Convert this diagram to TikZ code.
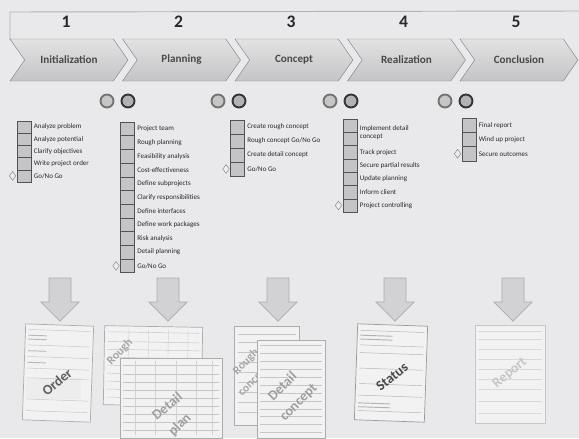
\documentclass[tikz,border=0pt]{standalone}
\usepackage{fontspec}
\setmainfont{Carlito}
\usepackage{xcolor}
\usepackage{tikz}
\usetikzlibrary{positioning,shapes.symbols,shapes.geometric,calc}

\definecolor{paper}{RGB}{233,233,235}
\definecolor{chevtop}{RGB}{226,226,227}
\definecolor{chevbot}{RGB}{196,196,198}
\definecolor{rim}{RGB}{135,135,138}
\definecolor{ink}{RGB}{40,40,42}
\definecolor{boxfill}{RGB}{196,196,198}
\definecolor{arrowfill}{RGB}{210,210,212}
\definecolor{sheet}{RGB}{242,242,243}

\begin{document}
\begin{tikzpicture}[x=0.03cm, y=-0.03cm,
	phase/.style={signal, signal from=west, signal to=east, signal pointer angle=110,
		minimum width=3.54cm, minimum height=1.26cm, inner sep=0pt, draw=rim,
		top color=chevtop, bottom color=chevbot, text=ink!85,
		font=\fontsize{9.5}{11}\selectfont\bfseries},
	num/.style={font=\fontsize{15}{18}\selectfont\bfseries, text=ink},
	knob/.style={circle, minimum size=0.39cm, inner sep=0pt, line width=1.6pt,
		draw=black!55, fill=gray!45},
	chk/.style={rectangle, draw=ink!80, fill=boxfill, minimum width=0.42cm, inner sep=0pt, line width=0.5pt},
	item/.style={inner sep=0.5pt, text=ink, font=\fontsize{6}{7}\selectfont},
	gate/.style={diamond, draw=rim, fill=gray!15, inner sep=0pt, minimum width=0.2cm, minimum height=0.27cm},
	bigarrow/.style={fill=arrowfill, draw=rim!70, line width=0.6pt},
	doc/.style={rectangle, draw=gray!65, fill=sheet, inner sep=0pt, line width=0.6pt},
	form/.style={draw=gray!45, line width=0.4pt, shorten <=3pt, shorten >=3pt},
	stamp/.style={font=\fontsize{12}{13}\selectfont\bfseries, inner sep=0pt},
	smallstamp/.style={font=\fontsize{10}{11}\selectfont\bfseries, inner sep=0pt}]

	\useasboundingbox[fill=paper] (0,0) rectangle (579,438);
	\draw[gray!60, line width=0.8pt] (10,40) -- (10,12) -- (579,11);

	\foreach \t [count=\i] in {Initialization, Planning, Concept, Realization, Conclusion} {
		\node[phase] (p\i) at ({69+112.5*(\i-1)},60) {\t};
		\node[num] (n\i) at ({66+112.5*(\i-1)},22) {\i};
	}

	\foreach \c [count=\k] in {107,218,330,445} {
		\node[knob] (k\k a) at (\c,101) {};
		\node[knob, draw=black!80, fill=gray!60] (k\k b) at (\c+21,101) {};
	}

	\foreach \t [count=\i] in {Analyze problem, Analyze potential, Clarify objectives, Write project order, Go/No Go} {
		\node[chk, minimum height=0.366cm] (a\i) at (24,{114.9+12.2*\i}) {};
		\node[item, right=1.5pt of a\i] {\t};
	}
	\node[gate, left=0.5pt of a5] (ga) {};

	\foreach \t [count=\i] in {Project team, Rough planning, Feasibility analysis, Cost-effectiveness,
		Define subprojects, Clarify responsibilities, Define interfaces, Define work packages,
		Risk analysis, Detail planning, Go/No Go} {
		\node[chk, minimum height=0.411cm] (b\i) at (127.5,{115.15+13.7*\i}) {};
		\node[item, right=1.5pt of b\i] {\t};
	}
	\node[gate, left=0.5pt of b11] (gb) {};

	\foreach \t [count=\i] in {Create rough concept, Rough concept Go/No Go, Create detail concept, Go/No Go} {
		\node[chk, minimum height=0.42cm] (c\i) at (237.5,{113+14*\i}) {};
		\node[item, right=1.5pt of c\i] {\t};
	}
	\node[gate, left=0.5pt of c4] (gc) {};

	\foreach \i in {1,...,7}
		\node[chk, minimum height=0.399cm] (d\i) at (350,{112.35+13.3*\i}) {};
	\node[item, align=left, anchor=west] at ($(d1.south east)+(1.5pt,0)$) {Implement detail\\concept};
	\foreach \t [count=\i from 3] in {Track project, Secure partial results, Update planning, Inform client, Project controlling}
		\node[item, right=1.5pt of d\i] {\t};
	\node[gate, left=0.5pt of d7] (gd) {};

	\foreach \t [count=\i] in {Final report, Wind up project, Secure outcomes} {
		\node[chk, minimum height=0.43cm] (e\i) at (469,{110.85+14.3*\i}) {};
		\node[item, right=1.5pt of e\i] {\t};
	}
	\node[gate, left=0.5pt of e3] (ge) {};

	\foreach \c in {60,168,278,395,513}
		\draw[bigarrow] (\c-11,278) -- (\c+11,278) -- (\c+11,302) -- (\c+19,302)
			-- (\c,321) -- (\c-19,302) -- (\c-11,302) -- cycle;

	% order form
	\node[doc, minimum width=2.04cm, minimum height=2.88cm, rotate=-2] (order) at (58,373) {};
	\fill[gray!14] ($(order.north west)!0.56!(order.south west)+(3,0)$) rectangle ($(order.north west)!0.78!(order.south west)+(58,0)$);
	\foreach \f in {0.06,0.22,0.34,0.46,0.56,0.78,0.9}
		\draw[form] ($(order.north west)!\f!(order.south west)$) -- ($(order.north east)!\f!(order.south east)$);
	\foreach \f in {0.12,0.16,0.28,0.4}
		\draw[form, draw=gray!55, line width=0.8pt, shorten >=40pt] ($(order.north west)!\f!(order.south west)$) -- ($(order.north east)!\f!(order.south east)$);
	\node[stamp, text=gray!75!black, rotate=40] (ordert) at (57,382) {Order};

	% plans
	\node[doc, minimum width=2.94cm, minimum height=2.37cm, rotate=-1] (rplan) at (153,366) {};
	\foreach \f in {0.08,0.2,0.3,0.4,0.5,0.6,0.7,0.8,0.9}
		\draw[form] ($(rplan.north west)!\f!(rplan.south west)$) -- ($(rplan.north east)!\f!(rplan.south east)$);
	\foreach \f in {0.25,0.45,0.65,0.85}
		\draw[form, draw=gray!35] ($(rplan.north west)!\f!(rplan.north east)$) -- ($(rplan.south west)!\f!(rplan.south east)$);
	\node[smallstamp, text=gray!70, rotate=45] (rplant) at (120,352) {Rough};
	\node[smallstamp, text=gray!70, rotate=45] (rplanp) at (137,370) {plan};

	\node[doc, minimum width=3.06cm, minimum height=2.4cm] (dplan) at (171,398) {};
	\foreach \f in {0.1,0.2,0.3,0.4,0.5,0.6,0.7,0.8,0.9}
		\draw[form] ($(dplan.north west)!\f!(dplan.south west)$) -- ($(dplan.north east)!\f!(dplan.south east)$);
	\foreach \f in {0.15,0.35,0.55,0.75,0.9}
		\draw[form, draw=gray!35] ($(dplan.north west)!\f!(dplan.north east)$) -- ($(dplan.south west)!\f!(dplan.south east)$);
	\node[stamp, text=gray!75, rotate=40] (dplant) at (167,406) {Detail};
	\node[stamp, text=gray!75, rotate=45] (dplanp) at (180,425) {plan};

	% concepts
	\node[doc, minimum width=1.95cm, minimum height=2.97cm] (rcon) at (267,376) {};
	\foreach \f in {0.08,0.16,0.26,0.36,0.46,0.56,0.66,0.76,0.86}
		\draw[form] ($(rcon.north west)!\f!(rcon.south west)$) -- ($(rcon.north east)!\f!(rcon.south east)$);
	\node[smallstamp, text=gray!70, rotate=45] (rcont) at (246,362) {Rough};
	\node[smallstamp, text=gray!70, rotate=45] (rconc) at (254,381) {concept};

	\node[doc, minimum width=2.04cm, minimum height=2.94cm] (dcon) at (291,389) {};
	\foreach \f in {0.06,0.14,0.22,0.3,0.38,0.46,0.54,0.62,0.7,0.78,0.86,0.94}
		\draw[form] ($(dcon.north west)!\f!(dcon.south west)$) -- ($(dcon.north east)!\f!(dcon.south east)$);
	\node[stamp, text=gray!75, rotate=45] (dcont) at (282,386) {Detail};
	\node[stamp, text=gray!75, rotate=45] (dconc) at (299,403) {concept};

	% status report
	\node[doc, minimum width=2.1cm, minimum height=2.88cm, rotate=-2, draw=gray!80] (status) at (391,373) {};
	\foreach \f in {0.07,0.22,0.3,0.46,0.62,0.74,0.9}
		\draw[form, draw=gray!60] ($(status.north west)!\f!(status.south west)$) -- ($(status.north east)!\f!(status.south east)$);
	\foreach \f in {0.12,0.16,0.82,0.86}
		\draw[form, draw=gray!60, line width=0.8pt, shorten >=30pt] ($(status.north west)!\f!(status.south west)$) -- ($(status.north east)!\f!(status.south east)$);
	\node[stamp, text=ink!85, rotate=38] (statust) at (392,377) {Status};

	% final report
	\node[doc, minimum width=2.1cm, minimum height=2.94cm, draw=gray!45] (report) at (510,374) {};
	\foreach \f in {0.07,0.15,0.25,0.35,0.45,0.55,0.65,0.78,0.9}
		\draw[form, draw=gray!30] ($(report.north west)!\f!(report.south west)$) -- ($(report.north east)!\f!(report.south east)$);
	\node[stamp, text=gray!45, rotate=40] (reportt) at (510,373) {Report};
\end{tikzpicture}
\end{document}
